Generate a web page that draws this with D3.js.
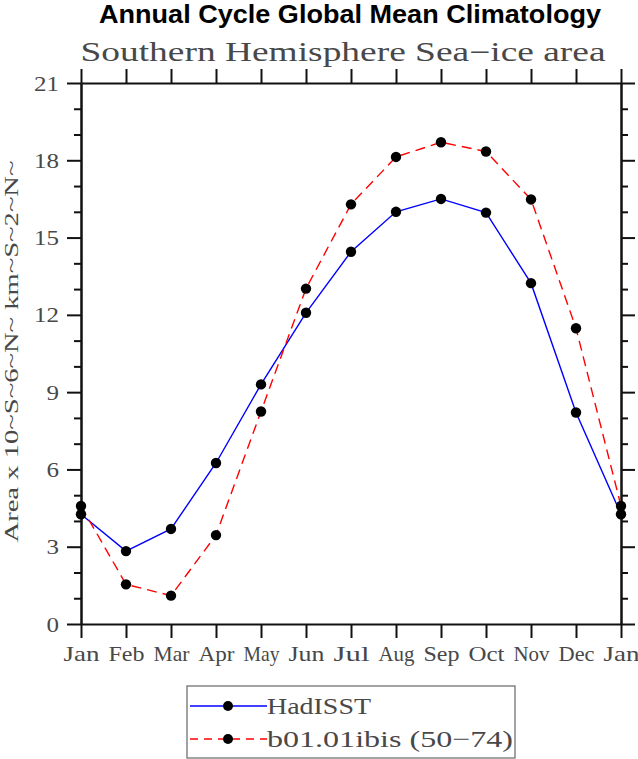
<!DOCTYPE html>
<html>
<head>
<meta charset="utf-8">
<script src="https://cdn.jsdelivr.net/npm/d3@7"></script>
<style>
  body { margin: 0; background: #fff; }
  svg { display: block; }
</style>
</head>
<body>
<svg id="chart" width="638" height="759"></svg>
<script>
// month labels along the x axis (the cycle wraps back to Jan)
const months = ["Jan","Feb","Mar","Apr","May","Jun","Jul","Aug","Sep","Oct","Nov","Dec","Jan"];

// sea-ice area, 10^6 km^2
const hadisst = [4.26, 2.83, 3.69, 6.25, 9.30, 12.08, 14.45, 16.0, 16.5, 15.97, 13.23, 8.21, 4.26];
const b01ibis = [4.58, 1.54, 1.10, 3.45, 8.25, 13.02, 16.29, 18.13, 18.7, 18.34, 16.48, 11.48, 4.58];

const yTicks = [0, 3, 6, 9, 12, 15, 18, 21];
const yMinor = d3.range(0, 22, 1).filter(v => v % 3 !== 0);

const seriesNames = ["HadISST", "b01.01ibis (50\u221274)"];

const svg = d3.select("#chart");
const margin = {top: 83, right: 17, bottom: 135, left: 81};
const width = +svg.attr("width") - margin.left - margin.right;
const height = +svg.attr("height") - margin.top - margin.bottom;

const serif = "'Liberation Serif', 'DejaVu Serif', serif";
const textCol = "#484848";

// the plot's font is wide, so stretch glyphs to a per-character width
const stretch = (sel, perChar) => sel
    .attr("textLength", function () { return this.textContent.length * perChar; })
    .attr("lengthAdjust", "spacingAndGlyphs");

const x = d3.scaleLinear().domain([0, months.length - 1]).range([0, width]);
const y = d3.scaleLinear().domain([0, 21]).range([height, 0]);

const g = svg.append("g").attr("transform", `translate(${margin.left},${margin.top})`);

// titles
svg.append("text")
    .attr("x", 350).attr("y", 23)
    .attr("text-anchor", "middle")
    .style("font-family", "'Liberation Sans', Arial, sans-serif")
    .style("font-weight", "bold")
    .style("font-size", "26px")
    .attr("textLength", 502).attr("lengthAdjust", "spacingAndGlyphs")
    .text("Annual Cycle Global Mean Climatology");

svg.append("text")
    .attr("x", 343).attr("y", 61)
    .attr("text-anchor", "middle")
    .style("font-family", serif)
    .style("font-size", "27px")
    .attr("fill", textCol)
    .attr("textLength", 525).attr("lengthAdjust", "spacingAndGlyphs")
    .text("Southern Hemisphere Sea\u2212ice area");

// axes: outward ticks on all four sides
const idx = d3.range(months.length);
const axStyle = sel => {
    sel.select(".domain").attr("stroke", "#111").attr("stroke-width", 2);
    sel.selectAll(".tick line").attr("stroke", "#111").attr("stroke-width", 2);
    sel.selectAll("text").style("font-family", serif).attr("fill", textCol);
};

const xBottom = g.append("g")
    .attr("transform", `translate(0,${height})`)
    .call(d3.axisBottom(x).tickValues(idx).tickFormat(i => months[i]).tickSize(14).tickPadding(8).tickSizeOuter(0))
    .call(axStyle);
xBottom.selectAll("text").style("font-size", "21px").call(stretch, 12);

g.append("g")
    .call(d3.axisTop(x).tickValues(idx).tickFormat("").tickSize(14).tickSizeOuter(0))
    .call(axStyle);

const yLeft = g.append("g")
    .call(d3.axisLeft(y).tickValues(yTicks).tickSize(14).tickPadding(8).tickSizeOuter(0))
    .call(axStyle);
yLeft.selectAll("text").style("font-size", "22px").call(stretch, 12.5);

g.append("g")
    .call(d3.axisLeft(y).tickValues(yMinor).tickFormat("").tickSize(7).tickSizeOuter(0))
    .call(axStyle);

g.append("g")
    .attr("transform", `translate(${width},0)`)
    .call(d3.axisRight(y).tickValues(yTicks).tickFormat("").tickSize(14).tickSizeOuter(0))
    .call(axStyle);

g.append("g")
    .attr("transform", `translate(${width},0)`)
    .call(d3.axisRight(y).tickValues(yMinor).tickFormat("").tickSize(7).tickSizeOuter(0))
    .call(axStyle);

// y axis label
svg.append("text")
    .attr("transform", `translate(18,${margin.top + height / 2 - 2}) rotate(-90)`)
    .attr("text-anchor", "middle")
    .style("font-family", serif)
    .style("font-size", "18px")
    .attr("fill", textCol)
    .attr("textLength", 382).attr("lengthAdjust", "spacingAndGlyphs")
    .text("Area x 10~S~6~N~ km~S~2~N~");

// series
const series = [
    {name: seriesNames[0], values: hadisst, color: "#0000ff", dash: null},
    {name: seriesNames[1], values: b01ibis, color: "#ff0000", dash: "10,6"}
];

const line = d3.line()
    .x((d, i) => x(i))
    .y(d => y(d));

series.forEach(s => {
    g.append("path")
        .datum(s.values)
        .attr("d", line)
        .attr("fill", "none")
        .attr("stroke", s.color)
        .attr("stroke-width", 1.4)
        .attr("stroke-dasharray", s.dash);
});

series.forEach(s => {
    g.selectAll(null)
        .data(s.values)
        .join("circle")
        .attr("cx", (d, i) => x(i))
        .attr("cy", d => y(d))
        .attr("r", 5.2)
        .attr("fill", "#000");
});

// legend
const lg = svg.append("g").attr("transform", "translate(187,686)");
lg.append("rect")
    .attr("width", 328).attr("height", 72)
    .attr("fill", "none")
    .attr("stroke", "#666")
    .attr("stroke-width", 1.2);

const legendWidths = [104, 246];
series.forEach((s, i) => {
    const ly = 20 + i * 33;
    lg.append("line")
        .attr("x1", 3).attr("x2", 80)
        .attr("y1", ly).attr("y2", ly)
        .attr("stroke", s.color)
        .attr("stroke-width", 1.4)
        .attr("stroke-dasharray", s.dash ? "8,6" : null);
    lg.append("circle")
        .attr("cx", 41).attr("cy", ly).attr("r", 5)
        .attr("fill", "#000");
    lg.append("text")
        .attr("x", 80).attr("y", ly + 8)
        .style("font-family", serif)
        .style("font-size", "24px")
        .attr("fill", textCol)
        .attr("textLength", legendWidths[i]).attr("lengthAdjust", "spacingAndGlyphs")
        .text(s.name);
});
</script>
</body>
</html>
